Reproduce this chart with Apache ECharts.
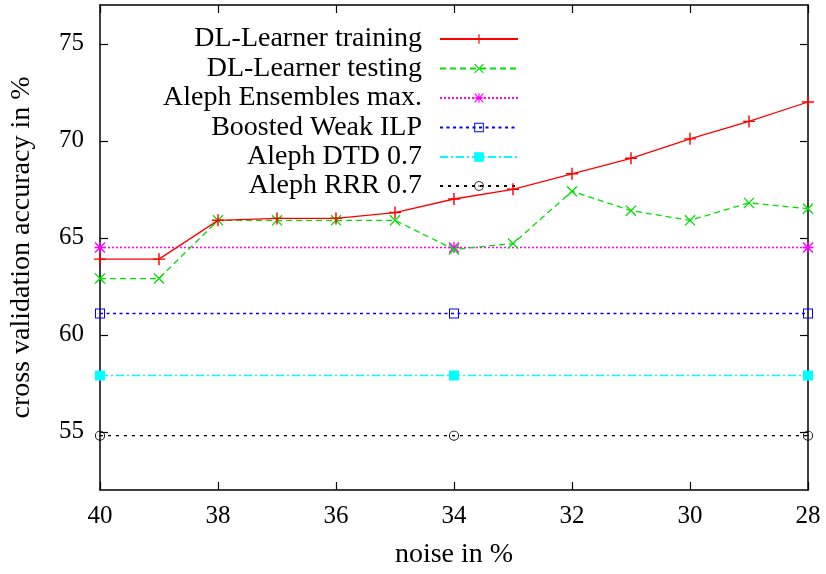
<!DOCTYPE html>
<html>
<head>
<meta charset="utf-8">
<script src="https://cdn.jsdelivr.net/npm/echarts@6/dist/echarts.min.js"></script>
<style>html,body{margin:0;padding:0;background:#fff}#c{width:826px;height:574px}</style>
</head>
<body>
<div id="c"></div>
<script>
const noise = [40, 39, 38, 37, 36, 35, 34, 33, 32, 31, 30, 29, 28];
const training = [63.9, 63.9, 65.9, 66.0, 66.0, 66.3, 67.0, 67.5, 68.3, 69.1, 70.1, 71.0, 72.0];
const testing = [62.9, 62.9, 65.9, 65.9, 65.9, 65.9, 64.4, 64.7, 67.4, 66.4, 65.9, 66.8, 66.5];
const baselineNoise = [40, 34, 28];
const ensemblesMax = [64.5, 64.5, 64.5];
const boostedWeak = [61.1, 61.1, 61.1];
const alephDTD = [57.9, 57.9, 57.9];
const alephRRR = [54.8, 54.8, 54.8];
const yTicks = [55, 60, 65, 70, 75];
const names = ['DL-Learner training', 'DL-Learner testing', 'Aleph Ensembles max.', 'Boosted Weak ILP', 'Aleph DTD 0.7', 'Aleph RRR 0.7'];

const FONT = '"Liberation Serif", "DejaVu Serif", serif';
const PLUS = 'path://M4.4,0H5.6V10H4.4Z M0,4.4H10V5.6H0Z';
const CROSS = 'path://M0,0.85L0.85,0L10,9.15L9.15,10Z M9.15,0L10,0.85L0.85,10L0,9.15Z';
const STAR = 'path://M4.4,0H5.6V10H4.4Z M0,4.4H10V5.6H0Z M0,0.85L0.85,0L10,9.15L9.15,10Z M9.15,0L10,0.85L0.85,10L0,9.15Z';
const OSQ = 'path://M0,0H10V10H0Z M1,1V9H9V1Z';
const ODOT = 'path://M5,0A5,5,0,1,1,5,10A5,5,0,1,1,5,0Z M5,0.9A4.1,4.1,0,1,0,5,9.1A4.1,4.1,0,1,0,5,0.9Z M5,4.2A0.8,0.8,0,1,1,5,5.8A0.8,0.8,0,1,1,5,4.2Z';

function pairs(xs, ys) { return xs.map((x, i) => [x, ys[i]]); }

const seriesDefs = [
  { name: names[0], data: pairs(noise, training), color: '#ff0000', type: 'solid', symbol: PLUS, size: 12, w: 1.3 },
  { name: names[1], data: pairs(noise, testing), color: '#00e000', type: [6, 4], symbol: CROSS, size: 11, w: 1.3 },
  { name: names[2], data: pairs(baselineNoise, ensemblesMax), color: '#ff00ff', type: [2, 2], symbol: STAR, size: 11, w: 1.5 },
  { name: names[3], data: pairs(baselineNoise, boostedWeak), color: '#0000ff', type: [3, 3.5], symbol: OSQ, size: 10, w: 1.5 },
  { name: names[4], data: pairs(baselineNoise, alephDTD), color: '#00ffff', type: [8, 3, 2, 3], symbol: 'rect', size: 10, w: 1.5 },
  { name: names[5], data: pairs(baselineNoise, alephRRR), color: '#000000', type: [3, 5], symbol: ODOT, size: 10, w: 1.2 }
];

const series = seriesDefs.map((d, i) => ({
  name: d.name,
  type: 'line',
  data: d.data,
  symbol: d.symbol,
  symbolSize: d.size,
  showAllSymbol: true,
  z: 10 - i,
  color: d.color,
  itemStyle: { color: d.color },
  lineStyle: { color: d.color, width: d.w, type: d.type },
  emphasis: { disabled: true },
  animation: false
}));

const legendCenters = [39, 68.5, 98, 127.5, 157, 186];
const legends = names.map((n, i) => ({
  data: [n],
  orient: 'vertical',
  align: 'right',
  right: 307,
  top: legendCenters[i] - 14,
  padding: 0,
  itemWidth: 78,
  itemHeight: 12,
  selectedMode: false,
  textStyle: { fontFamily: FONT, fontSize: 28, lineHeight: 28, color: '#000', padding: [0, 13, 0, 0] }
}));

const axisLine = { show: true, onZero: false, lineStyle: { color: '#000', width: 1.5 } };
const axisTick = { show: true, inside: true, length: 8, lineStyle: { color: '#000', width: 1.2 } };
const labelStyle = { fontFamily: FONT, fontSize: 25, color: '#000' };

const option = {
  backgroundColor: '#fff',
  animation: false,
  grid: { left: 99, right: 18, top: 5, bottom: 84, containLabel: false },
  legend: legends,
  xAxis: [
    {
      type: 'value', min: 28, max: 40, interval: 2, inverse: true, position: 'bottom',
      axisLine: axisLine, axisTick: axisTick, splitLine: { show: false },
      axisLabel: Object.assign({ margin: 14 }, labelStyle),
      name: 'noise in %', nameLocation: 'middle', nameGap: 51,
      nameTextStyle: { fontFamily: FONT, fontSize: 28, color: '#000' }
    },
    {
      type: 'value', min: 28, max: 40, interval: 2, inverse: true, position: 'top',
      axisLine: axisLine, axisTick: axisTick, splitLine: { show: false },
      axisLabel: { show: false }
    }
  ],
  yAxis: [
    {
      type: 'value', min: 52, max: 77, position: 'left',
      axisLine: axisLine,
      axisTick: Object.assign({ customValues: yTicks }, axisTick),
      splitLine: { show: false },
      axisLabel: Object.assign({ margin: 16, customValues: yTicks }, labelStyle),
      name: 'cross validation accuracy in %', nameLocation: 'middle', nameGap: 64, nameRotate: 90,
      nameTextStyle: { fontFamily: FONT, fontSize: 28, color: '#000' }
    },
    {
      type: 'value', min: 52, max: 77, position: 'right',
      axisLine: axisLine,
      axisTick: Object.assign({ customValues: yTicks }, axisTick),
      splitLine: { show: false },
      axisLabel: { show: false }
    }
  ],
  series: series
};

const chart = echarts.init(document.getElementById('c'));
chart.setOption(option);
</script>
</body>
</html>
